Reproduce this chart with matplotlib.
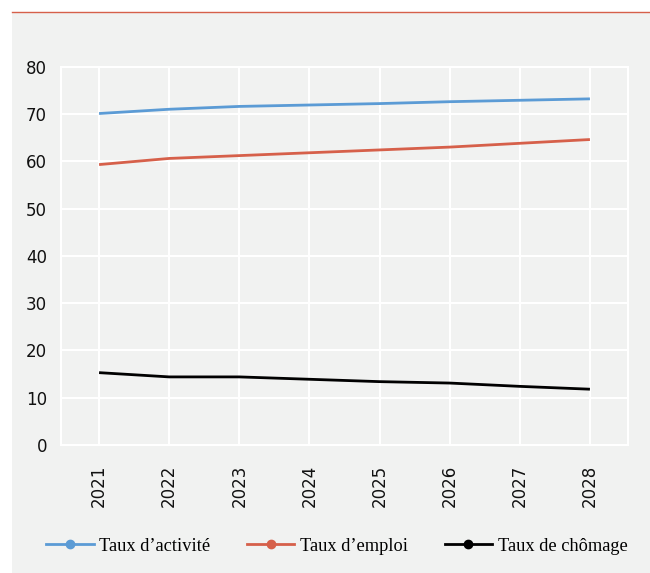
import matplotlib
matplotlib.use("Agg")
import matplotlib.pyplot as plt
from matplotlib.lines import Line2D
from matplotlib.patches import Rectangle

years = [2021, 2022, 2023, 2024, 2025, 2026, 2027, 2028]
taux_activite = [70.1, 71.0, 71.6, 71.9, 72.2, 72.6, 72.9, 73.2]
taux_emploi = [59.3, 60.6, 61.2, 61.8, 62.4, 63.0, 63.8, 64.6]
taux_chomage = [15.3, 14.4, 14.4, 13.9, 13.4, 13.1, 12.4, 11.8]
series_labels = ["Taux d\u2019activit\u00e9", "Taux d\u2019emploi", "Taux de ch\u00f4mage"]
y_ticks = [0, 10, 20, 30, 40, 50, 60, 70, 80]

colors = ["#5b9bd5", "#d6604a", "#000000"]
panel_bg = "#f1f2f1"

fig = plt.figure(figsize=(6.5, 5.73), dpi=100)
fig.patch.set_facecolor("white")

# grey panel with a thin red rule on top
W, H = 650, 573
panel = Rectangle((12 / W, 0), 1 - 12 / W, 1 - 12 / H,
                  transform=fig.transFigure, facecolor=panel_bg,
                  edgecolor="none", zorder=-10)
fig.add_artist(panel)
fig.add_artist(Line2D([12 / W, 1], [1 - 11.5 / H, 1 - 11.5 / H],
                      transform=fig.transFigure, color="#d6604a", lw=1.0,
                      zorder=-5))

ax = fig.add_axes([61 / W, (H - 445) / H, 567 / W, 378.3 / H])
ax.set_zorder(5)
ax.set_facecolor(panel_bg)

for vals, c in zip([taux_activite, taux_emploi, taux_chomage], colors):
    ax.plot(years, vals, color=c, lw=2.0, solid_capstyle="butt", zorder=3)

tick_font = {"family": "DejaVu Sans", "size": 12}
ax.set_xlim(2020.457, 2028.543)
ax.set_ylim(0, 80)
ax.set_xticks(years)
ax.set_xticklabels([str(y) for y in years], rotation=90, color="#111111",
                   fontdict=tick_font)
ax.set_yticks(y_ticks)
ax.set_yticklabels([str(v) for v in y_ticks], color="#111111",
                   fontdict=tick_font)
ax.tick_params(length=0)
ax.tick_params(axis="y", pad=10)
ax.tick_params(axis="x", pad=14)
ax.grid(True, color="white", lw=1.5, zorder=1)
ax.set_axisbelow(True)
for s in ax.spines.values():
    s.set_color("white")
    s.set_linewidth(1.5)

handles = [Line2D([], [], color=c, lw=2.0, marker="o", markersize=6)
           for c in colors]
leg = fig.legend(handles, series_labels, loc="center", bbox_to_anchor=(0.518, 0.047),
                 ncol=3, frameon=False, handlelength=2.6, handletextpad=0.3,
                 columnspacing=2.0, prop={"family": "Liberation Serif", "size": 13.2})
leg.set_zorder(6)

fig.savefig("out.png", dpi=100, facecolor=fig.get_facecolor())
